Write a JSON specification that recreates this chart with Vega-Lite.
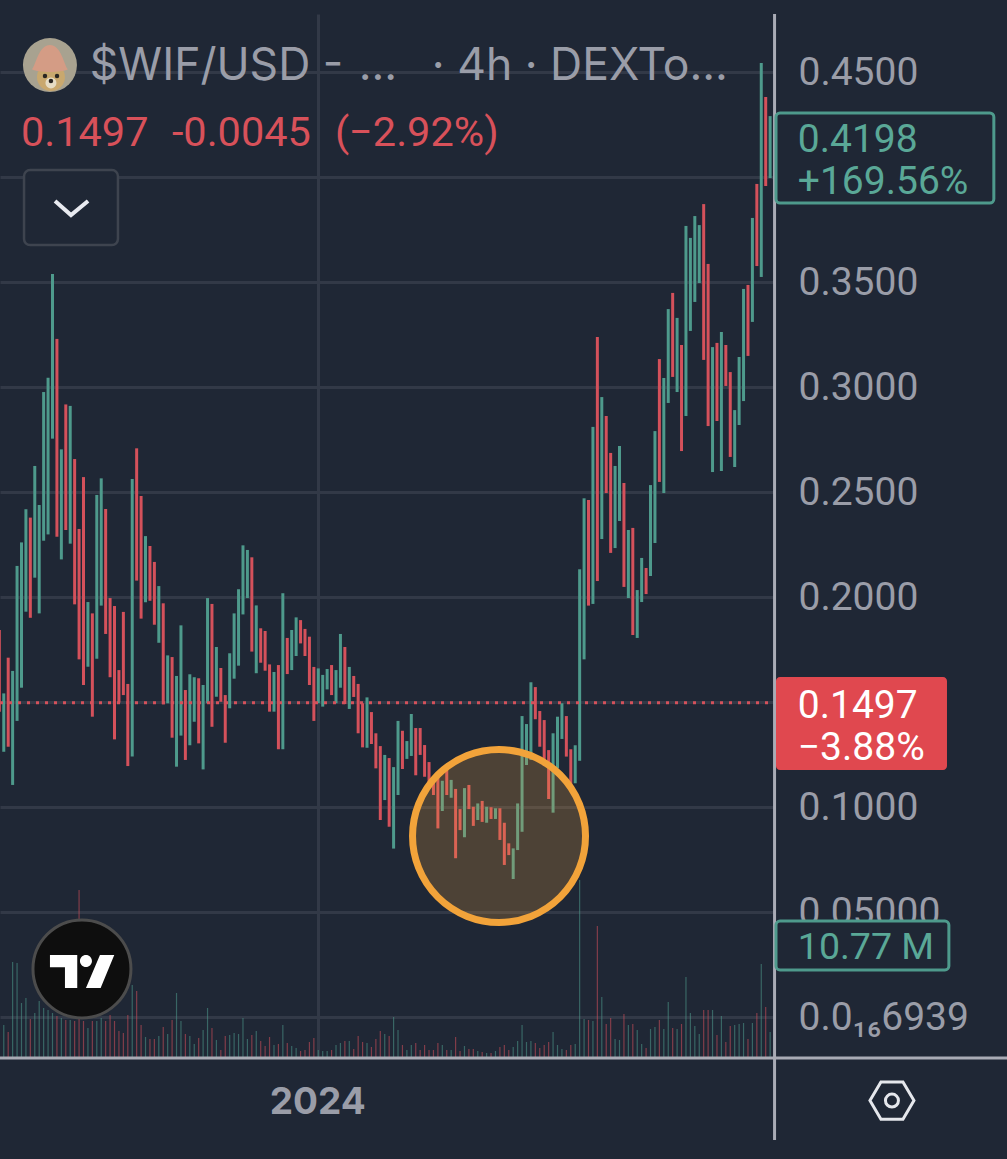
{"$schema":"https://vega.github.io/schema/vega-lite/v6.json","width":775,"height":1044,"autosize":{"type":"none"},"padding":{"left":0,"top":14,"right":232,"bottom":101},"background":"#1f2735","config":{"view":{"stroke":null},"text":{"font":"Roboto"}},
"datasets":{"candles":[
{"t":"2023-12-20T00:00Z","low":0.1454,"high":0.1843,"dir":"down","vol":2.5},
{"t":"2023-12-20T04:00Z","low":0.1263,"high":0.1541,"dir":"up","vol":3.3},
{"t":"2023-12-20T08:00Z","low":0.1287,"high":0.1711,"dir":"down","vol":2.6},
{"t":"2023-12-20T12:00Z","low":0.1105,"high":0.1648,"dir":"up","vol":9.6},
{"t":"2023-12-20T16:00Z","low":0.1410,"high":0.2148,"dir":"up","vol":9.5},
{"t":"2023-12-20T20:00Z","low":0.1568,"high":0.2260,"dir":"up","vol":5.5},
{"t":"2023-12-21T00:00Z","low":0.1930,"high":0.2418,"dir":"up","vol":6.0},
{"t":"2023-12-21T04:00Z","low":0.1901,"high":0.2378,"dir":"down","vol":3.9},
{"t":"2023-12-21T08:00Z","low":0.2092,"high":0.2624,"dir":"up","vol":4.5},
{"t":"2023-12-21T12:00Z","low":0.1922,"high":0.2438,"dir":"up","vol":5.7},
{"t":"2023-12-21T16:00Z","low":0.2268,"high":0.2976,"dir":"up","vol":5.0},
{"t":"2023-12-21T20:00Z","low":0.2298,"high":0.3044,"dir":"up","vol":4.8},
{"t":"2023-12-22T00:00Z","low":0.2754,"high":0.3538,"dir":"up","vol":4.5},
{"t":"2023-12-22T04:00Z","low":0.2287,"high":0.3229,"dir":"down","vol":4.2},
{"t":"2023-12-22T08:00Z","low":0.2179,"high":0.2703,"dir":"up","vol":4.0},
{"t":"2023-12-22T12:00Z","low":0.2319,"high":0.2917,"dir":"down","vol":3.8},
{"t":"2023-12-22T16:00Z","low":0.2254,"high":0.2910,"dir":"up","vol":3.8},
{"t":"2023-12-22T20:00Z","low":0.1965,"high":0.2657,"dir":"down","vol":3.7},
{"t":"2023-12-23T00:00Z","low":0.1703,"high":0.2324,"dir":"down","vol":16.8},
{"t":"2023-12-23T04:00Z","low":0.1581,"high":0.2571,"dir":"down","vol":3.7},
{"t":"2023-12-23T08:00Z","low":0.1668,"high":0.1976,"dir":"up","vol":3.0},
{"t":"2023-12-23T12:00Z","low":0.1430,"high":0.1922,"dir":"down","vol":3.7},
{"t":"2023-12-23T16:00Z","low":0.1706,"high":0.2486,"dir":"up","vol":3.7},
{"t":"2023-12-23T20:00Z","low":0.1959,"high":0.2565,"dir":"up","vol":4.0},
{"t":"2023-12-24T00:00Z","low":0.1824,"high":0.2419,"dir":"down","vol":3.7},
{"t":"2023-12-24T04:00Z","low":0.1618,"high":0.1995,"dir":"down","vol":4.3},
{"t":"2023-12-24T08:00Z","low":0.1322,"high":0.1957,"dir":"down","vol":3.7},
{"t":"2023-12-24T12:00Z","low":0.1497,"high":0.1652,"dir":"down","vol":2.7},
{"t":"2023-12-24T16:00Z","low":0.1533,"high":0.1929,"dir":"down","vol":2.5},
{"t":"2023-12-24T20:00Z","low":0.1195,"high":0.1586,"dir":"down","vol":4.3},
{"t":"2023-12-25T00:00Z","low":0.1240,"high":0.2562,"dir":"up","vol":7.3},
{"t":"2023-12-25T04:00Z","low":0.2078,"high":0.2708,"dir":"down","vol":6.7},
{"t":"2023-12-25T08:00Z","low":0.1897,"high":0.2481,"dir":"down","vol":3.3},
{"t":"2023-12-25T12:00Z","low":0.1975,"high":0.2290,"dir":"up","vol":2.1},
{"t":"2023-12-25T16:00Z","low":0.1982,"high":0.2243,"dir":"down","vol":1.9},
{"t":"2023-12-25T20:00Z","low":0.1868,"high":0.2167,"dir":"down","vol":1.9},
{"t":"2023-12-26T00:00Z","low":0.1782,"high":0.2052,"dir":"up","vol":2.2},
{"t":"2023-12-26T04:00Z","low":0.1489,"high":0.1970,"dir":"down","vol":3.1},
{"t":"2023-12-26T08:00Z","low":0.1494,"high":0.1722,"dir":"up","vol":2.4},
{"t":"2023-12-26T12:00Z","low":0.1330,"high":0.1714,"dir":"down","vol":3.8},
{"t":"2023-12-26T16:00Z","low":0.1192,"high":0.1624,"dir":"up","vol":6.5},
{"t":"2023-12-26T20:00Z","low":0.1340,"high":0.1865,"dir":"up","vol":3.7},
{"t":"2023-12-27T00:00Z","low":0.1224,"high":0.1557,"dir":"down","vol":2.4},
{"t":"2023-12-27T04:00Z","low":0.1294,"high":0.1632,"dir":"up","vol":2.2},
{"t":"2023-12-27T08:00Z","low":0.1406,"high":0.1618,"dir":"up","vol":1.4},
{"t":"2023-12-27T12:00Z","low":0.1303,"high":0.1613,"dir":"down","vol":2.0},
{"t":"2023-12-27T16:00Z","low":0.1179,"high":0.1581,"dir":"up","vol":2.8},
{"t":"2023-12-27T20:00Z","low":0.1494,"high":0.1995,"dir":"up","vol":5.0},
{"t":"2023-12-28T00:00Z","low":0.1382,"high":0.1967,"dir":"down","vol":3.0},
{"t":"2023-12-28T04:00Z","low":0.1525,"high":0.1762,"dir":"up","vol":1.8},
{"t":"2023-12-28T08:00Z","low":0.1501,"high":0.1662,"dir":"down","vol":0.8},
{"t":"2023-12-28T12:00Z","low":0.1306,"high":0.1533,"dir":"down","vol":2.2},
{"t":"2023-12-28T16:00Z","low":0.1470,"high":0.1732,"dir":"up","vol":2.3},
{"t":"2023-12-28T20:00Z","low":0.1611,"high":0.1922,"dir":"up","vol":2.5},
{"t":"2023-12-29T00:00Z","low":0.1673,"high":0.2037,"dir":"up","vol":2.4},
{"t":"2023-12-29T04:00Z","low":0.1917,"high":0.2246,"dir":"up","vol":4.0},
{"t":"2023-12-29T08:00Z","low":0.1995,"high":0.2224,"dir":"up","vol":1.9},
{"t":"2023-12-29T12:00Z","low":0.1740,"high":0.2189,"dir":"down","vol":2.3},
{"t":"2023-12-29T16:00Z","low":0.1637,"high":0.1960,"dir":"up","vol":2.7},
{"t":"2023-12-29T20:00Z","low":0.1687,"high":0.1851,"dir":"down","vol":1.7},
{"t":"2023-12-30T00:00Z","low":0.1649,"high":0.1838,"dir":"down","vol":1.2},
{"t":"2023-12-30T04:00Z","low":0.1454,"high":0.1679,"dir":"down","vol":2.1},
{"t":"2023-12-30T08:00Z","low":0.1454,"high":0.1643,"dir":"up","vol":1.3},
{"t":"2023-12-30T12:00Z","low":0.1275,"high":0.1676,"dir":"down","vol":1.4},
{"t":"2023-12-30T16:00Z","low":0.1275,"high":0.2018,"dir":"up","vol":3.3},
{"t":"2023-12-30T20:00Z","low":0.1633,"high":0.1805,"dir":"down","vol":1.5},
{"t":"2023-12-31T00:00Z","low":0.1652,"high":0.1843,"dir":"up","vol":1.2},
{"t":"2023-12-31T04:00Z","low":0.1719,"high":0.1903,"dir":"up","vol":1.0},
{"t":"2023-12-31T08:00Z","low":0.1779,"high":0.1890,"dir":"down","vol":0.7},
{"t":"2023-12-31T12:00Z","low":0.1719,"high":0.1848,"dir":"down","vol":0.8},
{"t":"2023-12-31T16:00Z","low":0.1581,"high":0.1811,"dir":"down","vol":1.6},
{"t":"2023-12-31T20:00Z","low":0.1410,"high":0.1667,"dir":"down","vol":2.0},
{"t":"2024-01-01T00:00Z","low":0.1494,"high":0.1660,"dir":"up","vol":0.8},
{"t":"2024-01-01T04:00Z","low":0.1478,"high":0.1629,"dir":"up","vol":0.7},
{"t":"2024-01-01T08:00Z","low":0.1560,"high":0.1657,"dir":"up","vol":0.7},
{"t":"2024-01-01T12:00Z","low":0.1533,"high":0.1676,"dir":"down","vol":0.8},
{"t":"2024-01-01T16:00Z","low":0.1494,"high":0.1652,"dir":"up","vol":1.3},
{"t":"2024-01-01T20:00Z","low":0.1568,"high":0.1824,"dir":"up","vol":1.5},
{"t":"2024-01-02T00:00Z","low":0.1490,"high":0.1762,"dir":"down","vol":1.7},
{"t":"2024-01-02T04:00Z","low":0.1467,"high":0.1667,"dir":"up","vol":1.7},
{"t":"2024-01-02T08:00Z","low":0.1524,"high":0.1624,"dir":"down","vol":0.9},
{"t":"2024-01-02T12:00Z","low":0.1351,"high":0.1586,"dir":"down","vol":2.2},
{"t":"2024-01-02T16:00Z","low":0.1284,"high":0.1494,"dir":"down","vol":1.6},
{"t":"2024-01-02T20:00Z","low":0.1282,"high":0.1522,"dir":"up","vol":1.5},
{"t":"2024-01-03T00:00Z","low":0.1300,"high":0.1452,"dir":"down","vol":1.1},
{"t":"2024-01-03T04:00Z","low":0.1184,"high":0.1351,"dir":"down","vol":1.9},
{"t":"2024-01-03T08:00Z","low":0.0938,"high":0.1290,"dir":"down","vol":2.7},
{"t":"2024-01-03T12:00Z","low":0.1033,"high":0.1248,"dir":"up","vol":2.4},
{"t":"2024-01-03T16:00Z","low":0.0906,"high":0.1233,"dir":"down","vol":2.2},
{"t":"2024-01-03T20:00Z","low":0.0802,"high":0.1190,"dir":"up","vol":4.1},
{"t":"2024-01-04T00:00Z","low":0.1057,"high":0.1410,"dir":"up","vol":2.8},
{"t":"2024-01-04T04:00Z","low":0.1181,"high":0.1363,"dir":"down","vol":1.3},
{"t":"2024-01-04T08:00Z","low":0.1229,"high":0.1314,"dir":"up","vol":0.8},
{"t":"2024-01-04T12:00Z","low":0.1243,"high":0.1443,"dir":"up","vol":1.3},
{"t":"2024-01-04T16:00Z","low":0.1151,"high":0.1376,"dir":"down","vol":1.5},
{"t":"2024-01-04T20:00Z","low":0.1248,"high":0.1376,"dir":"down","vol":0.8},
{"t":"2024-01-05T00:00Z","low":0.1144,"high":0.1295,"dir":"down","vol":1.3},
{"t":"2024-01-05T04:00Z","low":0.1097,"high":0.1214,"dir":"down","vol":0.8},
{"t":"2024-01-05T08:00Z","low":0.1057,"high":0.1144,"dir":"down","vol":0.8},
{"t":"2024-01-05T12:00Z","low":0.0898,"high":0.1144,"dir":"down","vol":1.5},
{"t":"2024-01-05T16:00Z","low":0.0981,"high":0.1125,"dir":"up","vol":1.3},
{"t":"2024-01-05T20:00Z","low":0.1057,"high":0.1176,"dir":"down","vol":0.8},
{"t":"2024-01-06T00:00Z","low":0.1044,"high":0.1129,"dir":"up","vol":0.8},
{"t":"2024-01-06T04:00Z","low":0.0756,"high":0.1086,"dir":"down","vol":2.1},
{"t":"2024-01-06T08:00Z","low":0.0890,"high":0.0990,"dir":"down","vol":0.7},
{"t":"2024-01-06T12:00Z","low":0.0856,"high":0.1090,"dir":"up","vol":1.2},
{"t":"2024-01-06T16:00Z","low":0.0990,"high":0.1105,"dir":"down","vol":0.9},
{"t":"2024-01-06T20:00Z","low":0.0910,"high":0.1001,"dir":"down","vol":0.9},
{"t":"2024-01-07T00:00Z","low":0.0938,"high":0.1017,"dir":"up","vol":0.7},
{"t":"2024-01-07T04:00Z","low":0.0929,"high":0.1029,"dir":"down","vol":0.6},
{"t":"2024-01-07T08:00Z","low":0.0925,"high":0.1001,"dir":"up","vol":0.5},
{"t":"2024-01-07T12:00Z","low":0.0943,"high":0.0999,"dir":"down","vol":0.5},
{"t":"2024-01-07T16:00Z","low":0.0943,"high":0.0994,"dir":"up","vol":0.7},
{"t":"2024-01-07T20:00Z","low":0.0843,"high":0.0994,"dir":"down","vol":1.1},
{"t":"2024-01-08T00:00Z","low":0.0724,"high":0.0925,"dir":"down","vol":1.3},
{"t":"2024-01-08T04:00Z","low":0.0771,"high":0.0827,"dir":"down","vol":0.8},
{"t":"2024-01-08T08:00Z","low":0.0657,"high":0.0803,"dir":"up","vol":1.1},
{"t":"2024-01-08T12:00Z","low":0.0795,"high":0.1017,"dir":"up","vol":1.7},
{"t":"2024-01-08T16:00Z","low":0.0882,"high":0.1433,"dir":"up","vol":3.3},
{"t":"2024-01-08T20:00Z","low":0.1200,"high":0.1395,"dir":"up","vol":1.6},
{"t":"2024-01-09T00:00Z","low":0.1224,"high":0.1594,"dir":"up","vol":1.7},
{"t":"2024-01-09T04:00Z","low":0.1418,"high":0.1571,"dir":"down","vol":1.5},
{"t":"2024-01-09T08:00Z","low":0.1287,"high":0.1457,"dir":"down","vol":1.0},
{"t":"2024-01-09T12:00Z","low":0.1195,"high":0.1414,"dir":"down","vol":1.3},
{"t":"2024-01-09T16:00Z","low":0.1038,"high":0.1271,"dir":"down","vol":1.6},
{"t":"2024-01-09T20:00Z","low":0.0973,"high":0.1351,"dir":"up","vol":2.6},
{"t":"2024-01-10T00:00Z","low":0.1184,"high":0.1430,"dir":"up","vol":1.3},
{"t":"2024-01-10T04:00Z","low":0.1324,"high":0.1494,"dir":"up","vol":0.9},
{"t":"2024-01-10T08:00Z","low":0.1240,"high":0.1433,"dir":"down","vol":0.8},
{"t":"2024-01-10T12:00Z","low":0.1097,"high":0.1275,"dir":"down","vol":1.3},
{"t":"2024-01-10T16:00Z","low":0.1113,"high":0.1294,"dir":"up","vol":1.4},
{"t":"2024-01-10T20:00Z","low":0.1220,"high":0.2132,"dir":"up","vol":17.8},
{"t":"2024-01-11T00:00Z","low":0.1703,"high":0.2470,"dir":"up","vol":3.9},
{"t":"2024-01-11T04:00Z","low":0.1959,"high":0.2462,"dir":"down","vol":3.8},
{"t":"2024-01-11T08:00Z","low":0.1967,"high":0.2810,"dir":"up","vol":3.7},
{"t":"2024-01-11T12:00Z","low":0.2076,"high":0.3238,"dir":"down","vol":13.2},
{"t":"2024-01-11T16:00Z","low":0.2276,"high":0.2952,"dir":"up","vol":6.1},
{"t":"2024-01-11T20:00Z","low":0.2495,"high":0.2862,"dir":"down","vol":3.4},
{"t":"2024-01-12T00:00Z","low":0.2210,"high":0.2686,"dir":"down","vol":4.0},
{"t":"2024-01-12T04:00Z","low":0.2233,"high":0.2624,"dir":"up","vol":1.9},
{"t":"2024-01-12T08:00Z","low":0.2362,"high":0.2719,"dir":"up","vol":1.8},
{"t":"2024-01-12T12:00Z","low":0.2048,"high":0.2543,"dir":"down","vol":4.4},
{"t":"2024-01-12T16:00Z","low":0.1995,"high":0.2319,"dir":"up","vol":3.3},
{"t":"2024-01-12T20:00Z","low":0.1819,"high":0.2329,"dir":"down","vol":3.4},
{"t":"2024-01-13T00:00Z","low":0.1805,"high":0.2033,"dir":"up","vol":2.8},
{"t":"2024-01-13T04:00Z","low":0.1976,"high":0.2186,"dir":"up","vol":1.4},
{"t":"2024-01-13T08:00Z","low":0.2014,"high":0.2138,"dir":"down","vol":1.0},
{"t":"2024-01-13T12:00Z","low":0.2100,"high":0.2533,"dir":"up","vol":2.9},
{"t":"2024-01-13T16:00Z","low":0.2257,"high":0.2790,"dir":"up","vol":3.1},
{"t":"2024-01-13T20:00Z","low":0.2548,"high":0.3133,"dir":"down","vol":3.8},
{"t":"2024-01-14T00:00Z","low":0.2495,"high":0.3043,"dir":"up","vol":2.9},
{"t":"2024-01-14T04:00Z","low":0.2924,"high":0.3371,"dir":"up","vol":5.6},
{"t":"2024-01-14T08:00Z","low":0.3048,"high":0.3448,"dir":"down","vol":3.0},
{"t":"2024-01-14T12:00Z","low":0.2976,"high":0.3329,"dir":"up","vol":2.9},
{"t":"2024-01-14T16:00Z","low":0.2695,"high":0.3200,"dir":"down","vol":3.4},
{"t":"2024-01-14T20:00Z","low":0.2862,"high":0.3767,"dir":"up","vol":8.1},
{"t":"2024-01-15T00:00Z","low":0.3267,"high":0.3710,"dir":"up","vol":4.5},
{"t":"2024-01-15T04:00Z","low":0.3405,"high":0.3814,"dir":"up","vol":3.2},
{"t":"2024-01-15T08:00Z","low":0.3495,"high":0.3771,"dir":"up","vol":2.4},
{"t":"2024-01-15T12:00Z","low":0.3129,"high":0.3871,"dir":"down","vol":4.8},
{"t":"2024-01-15T16:00Z","low":0.2814,"high":0.3586,"dir":"down","vol":4.8},
{"t":"2024-01-15T20:00Z","low":0.2595,"high":0.3190,"dir":"up","vol":4.8},
{"t":"2024-01-16T00:00Z","low":0.2838,"high":0.3210,"dir":"down","vol":2.3},
{"t":"2024-01-16T04:00Z","low":0.2600,"high":0.3262,"dir":"up","vol":4.2},
{"t":"2024-01-16T08:00Z","low":0.3005,"high":0.3200,"dir":"down","vol":1.6},
{"t":"2024-01-16T12:00Z","low":0.2667,"high":0.3071,"dir":"down","vol":3.2},
{"t":"2024-01-16T16:00Z","low":0.2619,"high":0.2890,"dir":"up","vol":3.3},
{"t":"2024-01-16T20:00Z","low":0.2819,"high":0.3143,"dir":"up","vol":3.4},
{"t":"2024-01-17T00:00Z","low":0.2933,"high":0.3467,"dir":"up","vol":3.5},
{"t":"2024-01-17T04:00Z","low":0.3148,"high":0.3486,"dir":"down","vol":1.9},
{"t":"2024-01-17T08:00Z","low":0.3310,"high":0.3805,"dir":"up","vol":3.5},
{"t":"2024-01-17T12:00Z","low":0.3576,"high":0.3967,"dir":"down","vol":4.5},
{"t":"2024-01-17T16:00Z","low":0.3524,"high":0.4543,"dir":"up","vol":9.4},
{"t":"2024-01-17T20:00Z","low":0.3957,"high":0.4381,"dir":"down","vol":5.1},
{"t":"2024-01-18T00:00Z","low":0.3995,"high":0.4290,"dir":"up","vol":2.6}
]},
"encoding":{"x":{"field":"t","type":"temporal","scale":{"type":"utc","domain":["2023-12-20T00:36:00Z","2024-01-18T04:24:00Z"]},"axis":{"title":null,"values":["2024-01-01T00:00:00Z"],"labelExpr":"'2024'","labelFont":"Inter","labelFontSize":37,"labelFontWeight":"bold","labelColor":"#9a9da8","labelPadding":44,"labelOffset":-1,"labelBaseline":"middle","ticks":false,"domain":false,"grid":true,"gridColor":"#323947","gridWidth":3,"labelFlush":false}}},
"resolve":{"scale":{"y":"independent"}},
"layer":[
{"data":{"name":"candles"},"mark":{"type":"rule","strokeWidth":1.2,"opacity":0.55},"encoding":{"y":{"field":"vol","type":"quantitative","scale":{"domain":[0,104.4]},"axis":null},"color":{"field":"dir","type":"nominal","legend":null,"scale":{"domain":["up","down"],"range":["#4e9a8c","#d4515b"]}}}},
{"encoding":{"y":{"field":"low","type":"quantitative","scale":{"domain":[-0.019524,0.477619],"nice":false,"zero":false},"axis":{"title":null,"orient":"right","values":[0,0.05,0.1,0.15,0.2,0.25,0.3,0.35,0.4,0.45],"labelExpr":"datum.value==0?'0.0₁₆6939':abs(datum.value-0.05)<0.000001?'0.05000':(abs(datum.value-0.4)<0.000001||abs(datum.value-0.15)<0.000001)?'':format(datum.value,'.4f')","labelFont":"Roboto","labelFontSize":39,"labelColor":"#9a9da8","labelPadding":23,"labelOffset":1,"labelAlign":"left","labelBaseline":"middle","ticks":false,"domain":false,"grid":true,"gridColor":"#323947","gridWidth":3,"labelOverlap":false,"labelFlush":false}}},
"layer":[
{"data":{"name":"candles"},"mark":{"type":"rule","strokeWidth":3},"encoding":{"y2":{"field":"high"},"color":{"field":"dir","type":"nominal","legend":null,"scale":{"domain":["up","down"],"range":["#4e9a8c","#d4515b"]}}}},
{"data":{"values":[{"t":"2023-12-20T00:36:00Z","t2":"2024-01-18T04:24:00Z","low":0.1497}]},"mark":{"type":"rule","strokeWidth":3,"strokeDash":[3,6],"color":"#d4515b"},"encoding":{"x2":{"field":"t2"}}},
{"data":{"values":[{"t":"2024-01-07T19:12:00Z","low":0.0862}]},"mark":{"type":"point","shape":"circle","size":29929,"filled":true,"fill":"#f2a33a","fillOpacity":0.22,"stroke":"#f2a33a","strokeWidth":7,"strokeOpacity":1,"opacity":1}},
{"data":{"values":[{"t":"2024-01-18T04:00:00Z","low":-0.0586,"high":0.4776}]},"mark":{"type":"rule","strokeWidth":3,"color":"#a9abb5"},"encoding":{"y2":{"field":"high"}}},
{"data":{"values":[{"t":"2023-12-20T00:36:00Z","t2":"2024-01-26T21:54:00Z","low":-0.0195}]},"mark":{"type":"rule","strokeWidth":3,"color":"#a9abb5"},"encoding":{"x2":{"field":"t2"}}},
{"data":{"values":[{"t":"2024-01-18T05:18:00Z","t2":"2024-01-26T10:00:00Z","low":0.3876,"high":0.4305},{"t":"2024-01-18T05:18:00Z","t2":"2024-01-24T17:24:00Z","low":0.0224,"high":0.0457}]},"mark":{"type":"rect","fill":"#1f2735","stroke":"#4e9a8c","strokeWidth":3,"cornerRadius":4},"encoding":{"x2":{"field":"t2"},"y2":{"field":"high"}}},
{"data":{"values":[{"t":"2024-01-18T05:18:00Z","t2":"2024-01-24T15:42:00Z","low":0.1176,"high":0.1619}]},"mark":{"type":"rect","fill":"#e0484f","cornerRadius":4},"encoding":{"x2":{"field":"t2"},"y2":{"field":"high"}}},
{"data":{"values":[{"t":"2024-01-19T01:00:00Z","low":0.4178,"label":"0.4198"},{"t":"2024-01-19T01:00:00Z","low":0.3978,"label":"+169.56%"}]},"mark":{"type":"text","align":"left","baseline":"middle","font":"Roboto","fontSize":39,"color":"#5aa897"},"encoding":{"text":{"field":"label"}}},
{"data":{"values":[{"t":"2024-01-19T01:00:00Z","low":0.0330,"label":"10.77 M"}]},"mark":{"type":"text","align":"left","baseline":"middle","font":"Roboto","fontSize":37.5,"color":"#5aa897"},"encoding":{"text":{"field":"label"}}},
{"data":{"values":[{"t":"2024-01-19T01:00:00Z","low":0.1482,"label":"0.1497"},{"t":"2024-01-19T01:00:00Z","low":0.1282,"label":"−3.88%"}]},"mark":{"type":"text","align":"left","baseline":"middle","font":"Roboto","fontSize":39,"color":"#ffffff"},"encoding":{"text":{"field":"label"}}},
{"data":{"values":[{"t":"2023-12-23T09:42:00Z","low":0.4523,"label":"$WIF/USD -"},{"t":"2024-01-02T12:30:00Z","low":0.4523,"label":"..."},{"t":"2024-01-05T06:30:00Z","low":0.4523,"label":"· 4h · DEXTo..."}]},"mark":{"type":"text","align":"left","baseline":"middle","font":"Inter","fontSize":44.5,"color":"#9a9da8"},"encoding":{"text":{"field":"label"}}},
{"data":{"values":[{"t":"2023-12-20T19:30:00Z","low":0.4205,"label":"0.1497"},{"t":"2023-12-26T11:48:00Z","low":0.4205,"label":"-0.0045"},{"t":"2024-01-01T15:00:00Z","low":0.4205,"label":"(−2.92%)"}]},"mark":{"type":"text","align":"left","baseline":"middle","font":"Roboto","fontSize":41.5,"color":"#d8515a"},"encoding":{"text":{"field":"label"}}},
{"data":{"values":[{"t":"2023-12-20T22:18:00Z","t2":"2023-12-24T11:06:00Z","low":0.3676,"high":0.4033}]},"mark":{"type":"rect","fill":"#1f2735","stroke":"#3e444f","strokeWidth":2.5,"cornerRadius":6},"encoding":{"x2":{"field":"t2"},"y2":{"field":"high"}}},
{"data":{"values":[{"t":"2023-12-22T02:18:00Z","low":0.3886},{"t":"2023-12-22T16:42:00Z","low":0.3819},{"t":"2023-12-23T08:06:00Z","low":0.3886}]},"mark":{"type":"line","strokeWidth":4,"color":"#e8eaf0"}},
{"data":{"values":[{"t":"2023-12-21T21:42:00Z","low":0.4533}]},"mark":{"type":"point","shape":"circle","size":2916,"filled":true,"fill":"#a8a290","opacity":1}},
{"data":{"values":[{"t":"2023-12-21T22:36:00Z","low":0.4476}]},"mark":{"type":"point","shape":"circle","size":784,"filled":true,"fill":"#c9a86e","opacity":1}},
{"data":{"values":[{"t":"2023-12-21T22:36:00Z","low":0.4448}]},"mark":{"type":"point","shape":"circle","size":121,"filled":true,"fill":"#e6dcc4","opacity":1}},
{"data":{"values":[{"t":"2023-12-21T22:36:00Z","low":0.4457},{"t":"2023-12-21T17:12:00Z","low":0.4481},{"t":"2023-12-22T04:06:00Z","low":0.4481}]},"mark":{"type":"point","shape":"circle","size":20,"filled":true,"fill":"#2a2622","opacity":1}},
{"data":{"values":[{"t":"2023-12-21T21:42:00Z","low":0.4569}]},"mark":{"type":"point","shape":"M-1,0.65C-0.8,0.5-0.65,-0.7 0,-0.7C0.65,-0.7 0.8,0.5 1,0.65C0.6,0.85-0.6,0.85-1,0.65Z","size":1296,"filled":true,"fill":"#d49c85","opacity":1}},
{"data":{"values":[{"t":"2023-12-23T02:36:00Z","low":0.0229}]},"mark":{"type":"point","shape":"circle","size":9600,"filled":true,"fill":"#0e0e0e","stroke":"#4c4c4c","strokeWidth":3,"opacity":1}},
{"data":{"values":[{"t":"2023-12-23T02:36:00Z","low":0.0217}]},"mark":{"type":"point","shape":"M-1,-0.516L-0.147,-0.516L-0.147,0.516L-0.531,0.516L-0.531,-0.13L-1,-0.13ZM0.5625,-0.516L1.01,-0.516L0.584,0.516L0.125,0.516ZM-0.0625,-0.328a0.1875,0.1875 0 1,0 0.375,0a0.1875,0.1875 0 1,0 -0.375,0Z","size":4096,"filled":true,"fill":"#ffffff","opacity":1}},
{"data":{"values":[{"t":"2024-01-22T14:00:00Z","low":-0.0398}]},"mark":{"type":"point","shape":"M-1,0L-0.5,-0.85L0.5,-0.85L1,0L0.5,0.85L-0.5,0.85Z","size":1936,"filled":false,"stroke":"#e5e7ec","strokeWidth":3,"opacity":1}},
{"data":{"values":[{"t":"2024-01-22T14:00:00Z","low":-0.0398}]},"mark":{"type":"point","shape":"circle","size":169,"filled":false,"stroke":"#e5e7ec","strokeWidth":3,"opacity":1}}
]}
]}
